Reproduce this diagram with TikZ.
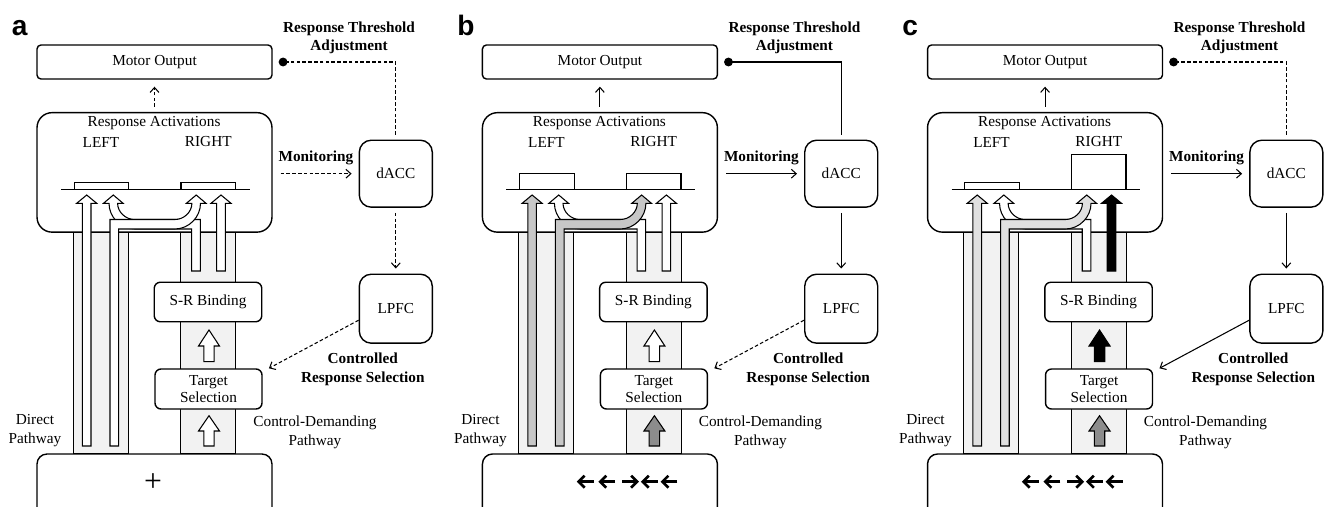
\documentclass[tikz,border=0pt]{standalone}
\usepackage{fontspec}
\setmainfont{Liberation Serif}
\newfontfamily\panelsf{Liberation Sans}
\usetikzlibrary{arrows.meta}

\tikzset{
  box/.style={draw, line width=0.8pt, fill=white, inner sep=0pt, align=center, font=\fontsize{8.7}{10.8}\selectfont},
  txt/.style={inner sep=0pt, align=center, font=\fontsize{8.7}{10.8}\selectfont},
  boldtxt/.style={inner sep=0pt, align=center, font=\fontsize{8.7}{10.2}\selectfont\bfseries},
  conn/.style={line width=0.6pt, -{Straight Barb[length=2.8pt,width=5pt]}, shorten <=0.1cm, shorten >=0.1cm},
  dashln/.style={dash pattern=on 2pt off 1.3pt},
  column/.style={draw, line width=0.6pt, fill=black!5},
  tube/.style={draw, line width=0.6pt, line join=miter},
  bar/.style={draw, line width=0.7pt, fill=white},
  flk/.style={line width=1.5pt, line cap=butt, line join=miter},
  % what changes from panel to panel
  motorln/.style={}, threshln/.style={}, monln/.style={}, daccln/.style={}, lpfcln/.style={},
  dirfill/.style={fill=white}, ctrlfill/.style={fill=white},
  upfill/.style={fill=white}, lowfill/.style={fill=white},
}

\newcommand\drawpanel[1]{%
  % pathways
  \draw[column] (73.3,232) rectangle (128.3,454);
  \draw[column] (180.7,232) rectangle (235.7,454);
  % boxes
  \node[box, rounded corners=0.08cm, minimum width=4.7cm, minimum height=0.68cm] (#1-mot) at (154.5,62) {Motor Output};
  \node[box, rounded corners=0.3cm, minimum width=4.7cm, minimum height=2.39cm] (#1-ra) at (154.5,172.4) {};
  \node[txt] (#1-ratitle) at (154,123.5) {Response Activations};
  \node[txt] (#1-left) at (101,142) {LEFT};
  \node[txt] (#1-right) at (208.3,142) {RIGHT};
  \node[box, rounded corners=0.2cm, minimum width=4.7cm, minimum height=1.32cm] (#1-stim) at (154.5,487) {};
  \node[box, rounded corners=0.12cm, minimum width=2.15cm, minimum height=0.79cm] (#1-srb) at (208,302) {S-R Binding};
  \node[box, rounded corners=0.12cm, minimum width=2.14cm, minimum height=0.8cm, font=\fontsize{8.7}{9.5}\selectfont] (#1-ts) at (208.5,389) {Target\\Selection};
  \node[box, rounded corners=0.24cm, minimum width=1.46cm, minimum height=1.34cm] (#1-dacc) at (395.8,173.7) {dACC};
  \node[box, rounded corners=0.24cm, minimum width=1.46cm, minimum height=1.38cm] (#1-lpfc) at (395.8,308.7) {LPFC};
  % labels
  \node[boldtxt] (#1-rta) at (349,38) {Response Threshold\\Adjustment};
  \node[boldtxt] (#1-mon) at (316,158) {Monitoring};
  \node[boldtxt, font=\fontsize{8.7}{10.8}\selectfont\bfseries] (#1-crs) at (362.8,369.7) {Controlled\\Response Selection};
  \node[txt] (#1-dp) at (35,431) {Direct\\Pathway};
  \node[txt] (#1-cdp) at (315,432) {Control-Demanding\\Pathway};
  \node[inner sep=0pt, anchor=base west, font=\fontsize{16}{16}\panelsf\bfseries] (#1-tag) at (11.5,35) {#1};
  % connectors
  \draw[conn, motorln, shorten >=0.14cm] (#1-ra.north) -- (#1-mot.south);
  \draw[line width=0.6pt, threshln, -{Circle[length=5pt]}, shorten <=0.1cm] (#1-dacc.north) |- ([xshift=0.12cm]#1-mot.east);
  \draw[conn, monln, shorten <=0.16cm, shorten >=0.14cm] (#1-ra.east |- #1-dacc.west) -- (#1-dacc.west);
  \draw[conn, daccln] (#1-dacc.south) -- (#1-lpfc.north);
  \draw[conn, lpfcln, shorten <=0pt, shorten >=0pt] ([yshift=-0.23cm]#1-lpfc.west) -- ([xshift=0.125cm]#1-ts.north east);
  % response bars
  \draw[bar] (74.3,189.3) rectangle (128.8,{189.3-\lbarh});
  \draw[bar] (181,189.3) rectangle (235.5,{189.3-\rbarh});
  \draw[line width=0.8pt] (61,189.3) -- (249.5,189.3);
  % straight arrows
  \draw[tube, dirfill] (82.4,446) -- (82.4,203.3) -- (76.7,203.3) -- (86.7,195) -- (96.7,203.3) -- (91,203.3) -- (91,446) -- cycle;
  \draw[tube, ctrlfill] (216.7,271) -- (216.7,203.3) -- (211,203.3) -- (221,195) -- (231,203.3) -- (225.3,203.3) -- (225.3,271) -- cycle;
  % crossing arrows
  \draw[tube, fill=white] (191.7,271) -- (191.7,229) -- (134.7,229) .. controls (120.5,229) and (109,217) .. (109,203.3) -- (103.5,203.3) -- (113.3,195) -- (123.1,203.3) -- (117.6,203.3) .. controls (117.6,212) and (125.5,219.5) .. (134.5,219.5) -- (200.3,219.5) -- (200.3,271) -- cycle;
  \draw[tube, dirfill] (110,446) -- (110,219.5) -- (175,219.5) .. controls (184,219.5) and (191.9,212) .. (191.9,203.3) -- (186.4,203.3) -- (196.2,195) -- (206,203.3) -- (200.5,203.3) .. controls (200.5,217) and (189,229) .. (174.8,229) -- (118.7,229) -- (118.7,446) -- cycle;
  % small arrows
  \draw[tube, upfill] (203.8,361.7) -- (203.8,346) -- (198.5,346) -- (209,330) -- (219.5,346) -- (214.2,346) -- (214.2,361.7) -- cycle;
  \draw[tube, lowfill] (203.8,446) -- (203.8,431) -- (198.5,431) -- (209,415.7) -- (219.5,431) -- (214.2,431) -- (214.2,446) -- cycle;
}

\begin{document}
\begin{tikzpicture}[x=0.02cm, y=-0.02cm]
  \useasboundingbox (0,0) rectangle (1325,507);
  \clip (0,0) rectangle (1325,507);

  %%%%% a %%%%%
  \begin{scope}[motorln/.style=dashln, threshln/.style=dashln, monln/.style=dashln, daccln/.style=dashln, lpfcln/.style=dashln]
    \def\lbarh{7}\def\rbarh{7}
    \drawpanel{a}
    \node[inner sep=0pt, font=\fontsize{18}{18}\selectfont] (a-fix) at (153,483) {+};
  \end{scope}

  %%%%% b %%%%%
  \begin{scope}[xshift=8.91cm, lpfcln/.style=dashln, dirfill/.style={fill=black!22}, lowfill/.style={fill=black!45}]
    \def\lbarh{16}\def\rbarh{16}
    \drawpanel{b}
    \foreach \cx/\d in {141.2/-1, 162.8/-1, 183.7/1, 205.3/-1, 225/-1}{
      \draw[flk] ({\cx-7*\d},481.7) -- ({\cx+7.5*\d},481.7);
      \draw[flk] ({\cx+2*\d},475.7) -- ({\cx+8*\d},481.7) -- ({\cx+2*\d},487.7);
    }
  \end{scope}

  %%%%% c %%%%%
  \begin{scope}[xshift=17.814cm, threshln/.style=dashln, dirfill/.style={fill=black!12}, ctrlfill/.style={fill=black}, upfill/.style={fill=black}, lowfill/.style={fill=black!45}]
    \def\lbarh{7}\def\rbarh{35}
    \drawpanel{c}
    \foreach \cx/\d in {141.2/-1, 162.8/-1, 183.7/1, 205.3/-1, 225/-1}{
      \draw[flk] ({\cx-7*\d},481.7) -- ({\cx+7.5*\d},481.7);
      \draw[flk] ({\cx+2*\d},475.7) -- ({\cx+8*\d},481.7) -- ({\cx+2*\d},487.7);
    }
  \end{scope}
\end{tikzpicture}
\end{document}
